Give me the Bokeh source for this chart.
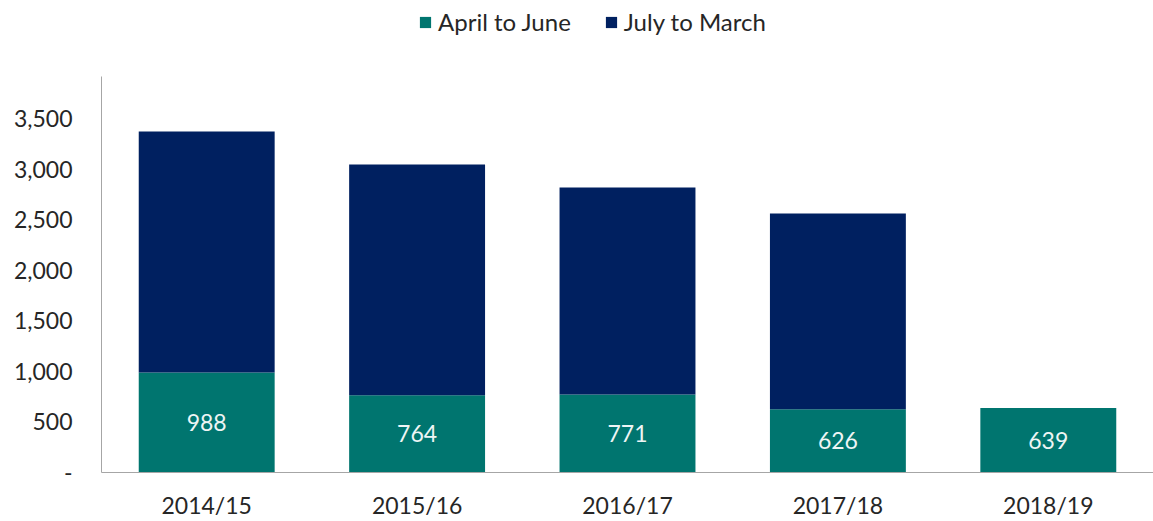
from bokeh.plotting import figure
from bokeh.models import ColumnDataSource, FactorRange, Range1d, Legend, LegendItem, FixedTicker, LabelSet
from bokeh.core.properties import value
from bokeh.embed import file_html
from bokeh.resources import INLINE

years = ["2014/15", "2015/16", "2016/17", "2017/18", "2018/19"]
april_to_june = [988, 764, 771, 626, 639]
july_to_march = [2385, 2282, 2048, 1936, 0]
series = ["April to June", "July to March"]
colors = ["#00756F", "#002060"]
y_ticks = [0, 500, 1000, 1500, 2000, 2500, 3000, 3500]

FONT = "Lato"

src = ColumnDataSource(data=dict(
    years=years,
    apr=april_to_june,
    jul=july_to_march,
    label_y=[v / 2 for v in april_to_june],
    label=[str(v) for v in april_to_june],
))

p = figure(width=1153, height=521, x_range=FactorRange(factors=years, start=0, end=4.92),
           y_range=Range1d(0, 4668), output_backend="svg", toolbar_location=None,
           min_border_left=101, min_border_right=0, min_border_top=0, min_border_bottom=49)

r = p.vbar_stack(["apr", "jul"], x="years", width=0.646, source=src, color=colors,
                 line_color=None)

labels = LabelSet(x="years", y="label_y", text="label", source=src, text_align="center",
                  text_baseline="middle", text_color="#EEF5F5", text_font=value(FONT),
                  text_font_size="23px")
p.add_layout(labels)

legend = Legend(items=[LegendItem(label=series[0], renderers=[r[0]]),
                       LegendItem(label=series[1], renderers=[r[1]])],
                orientation="horizontal", location=(317, 436),
                label_text_font=FONT, label_text_font_size="24px", label_text_color="#262626",
                glyph_width=14, glyph_height=14, spacing=33, label_standoff=6,
                background_fill_alpha=0, border_line_color=None, padding=0, margin=0)
p.add_layout(legend, "center")

p.xgrid.grid_line_color = None
p.ygrid.grid_line_color = None
p.outline_line_color = None

p.yaxis.ticker = FixedTicker(ticks=y_ticks)
p.yaxis.bounds = (0, 3917)
p.yaxis.major_label_overrides = {0: "-", 500: "500", 1000: "1,000", 1500: "1,500", 2000: "2,000",
                                 2500: "2,500", 3000: "3,000", 3500: "3,500"}
for ax in (p.xaxis[0], p.yaxis[0]):
    ax.axis_line_color = "#A6A6A6"
    ax.axis_line_width = 1
    ax.major_tick_line_color = None
    ax.minor_tick_line_color = None
    ax.major_label_text_font = FONT
    ax.major_label_text_font_size = "23px"
    ax.major_label_text_color = "#262626"
p.yaxis.major_label_standoff = 23
p.xaxis.major_label_standoff = 12

open("out.html", "w").write(file_html(p, INLINE))
